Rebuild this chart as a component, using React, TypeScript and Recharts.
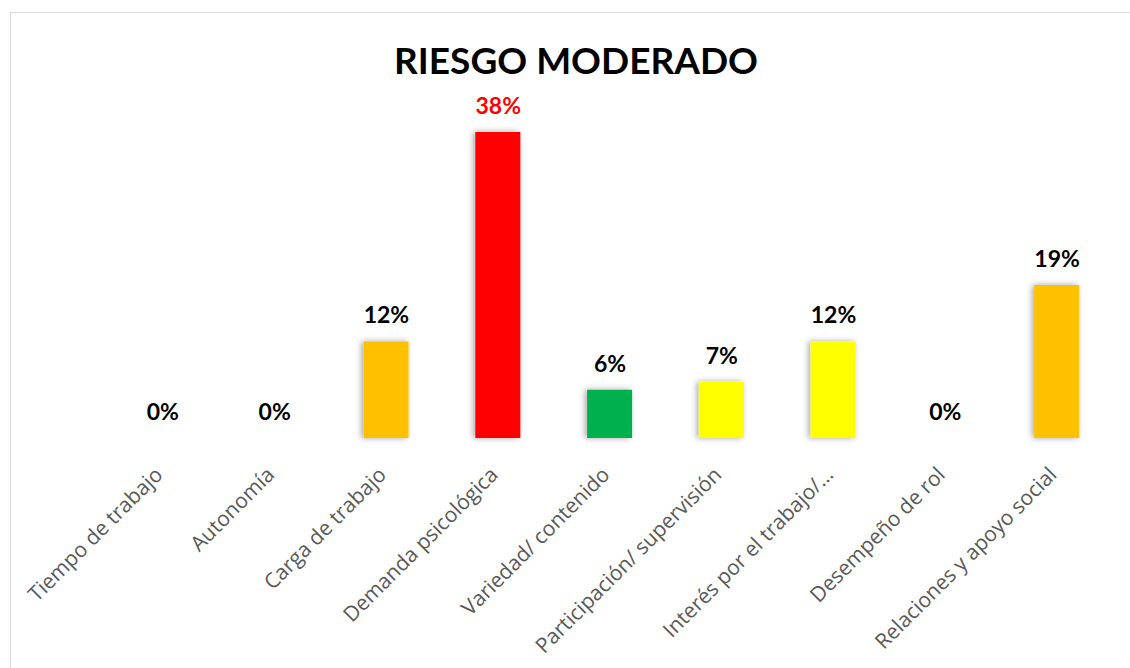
import { ComposedChart, Bar, Line, XAxis, YAxis, Cell, LabelList } from "recharts";

const categories = [
  "Tiempo de trabajo",
  "Autonomía",
  "Carga de trabajo",
  "Demanda psicológica",
  "Variedad/ contenido",
  "Participación/ supervisión",
  "Interés por el trabajo/…",
  "Desempeño de rol",
  "Relaciones y apoyo social",
];
const values = [0, 0, 0.12, 0.38, 0.06, 0.07, 0.12, 0, 0.19];
const colors = [
  "#FFC000",
  "#FFC000",
  "#FFC000",
  "#FF0000",
  "#00B050",
  "#FFFF00",
  "#FFFF00",
  "#FFC000",
  "#FFC000",
];
const labelColors = ["#000", "#000", "#000", "#FF0000", "#000", "#000", "#000", "#000", "#000"];

const data = categories.map((name, i) => ({ name, value: values[i] }));

const AxisTick = (props: any) => {
  const { x, y, payload } = props;
  const ax = x + 1;
  const ay = y + 30;
  return (
    <text
      x={ax}
      y={ay}
      transform={`rotate(-45 ${ax} ${ay})`}
      textAnchor="end"
      fill="#595959"
      fontSize={21}
      fontFamily="'Open Sans', sans-serif"
    >
      {payload.value}
    </text>
  );
};

// labels hang off an invisible line so zero values get one too
const ValueLabel = (props: any) => {
  const { x, y, value, index } = props;
  return (
    <text
      x={x}
      y={y - 18}
      textAnchor="middle"
      fill={labelColors[index]}
      fontSize={23}
      fontWeight="bold"
      fontFamily="Lato, sans-serif"
    >
      {`${Math.round(value * 100)}%`}
    </text>
  );
};

export default function App() {
  return (
    <div style={{ position: "absolute", left: 0, top: 0, width: 1130, height: 668, background: "#fff" }}>
      <div
        style={{
          position: "absolute",
          left: 10,
          top: 12,
          width: 1130,
          height: 670,
          border: "1px solid #d9d9d9",
        }}
      />
      <div
        style={{
          position: "absolute",
          left: 0,
          top: 37,
          width: 1152,
          textAlign: "center",
          fontFamily: "Lato, sans-serif",
          fontWeight: "bold",
          fontSize: 37,
          color: "#000",
        }}
      >
        RIESGO MODERADO
      </div>
      <div style={{ position: "absolute", left: 0, top: 0 }}>
        <ComposedChart
          width={1130}
          height={668}
          data={data}
          margin={{ top: 116, right: 17, bottom: 0, left: 107 }}
        >
          <defs>
            <filter id="barShadow" x="-40%" y="-20%" width="180%" height="140%">
              <feDropShadow dx={-2} dy={0} stdDeviation={3} floodColor="#000" floodOpacity={0.35} />
            </filter>
          </defs>
          <XAxis
            dataKey="name"
            axisLine={false}
            tickLine={false}
            interval={0}
            height={230}
            tick={<AxisTick />}
          />
          <YAxis hide domain={[0, 0.4]} />
          <Bar dataKey="value" barSize={45} isAnimationActive={false} filter="url(#barShadow)">
            {data.map((d, i) => (
              <Cell key={d.name} fill={colors[i]} />
            ))}
          </Bar>
          <Line
            dataKey="value"
            stroke="none"
            dot={false}
            activeDot={false}
            isAnimationActive={false}
          >
            <LabelList dataKey="value" content={<ValueLabel />} />
          </Line>
        </ComposedChart>
      </div>
    </div>
  );
}
